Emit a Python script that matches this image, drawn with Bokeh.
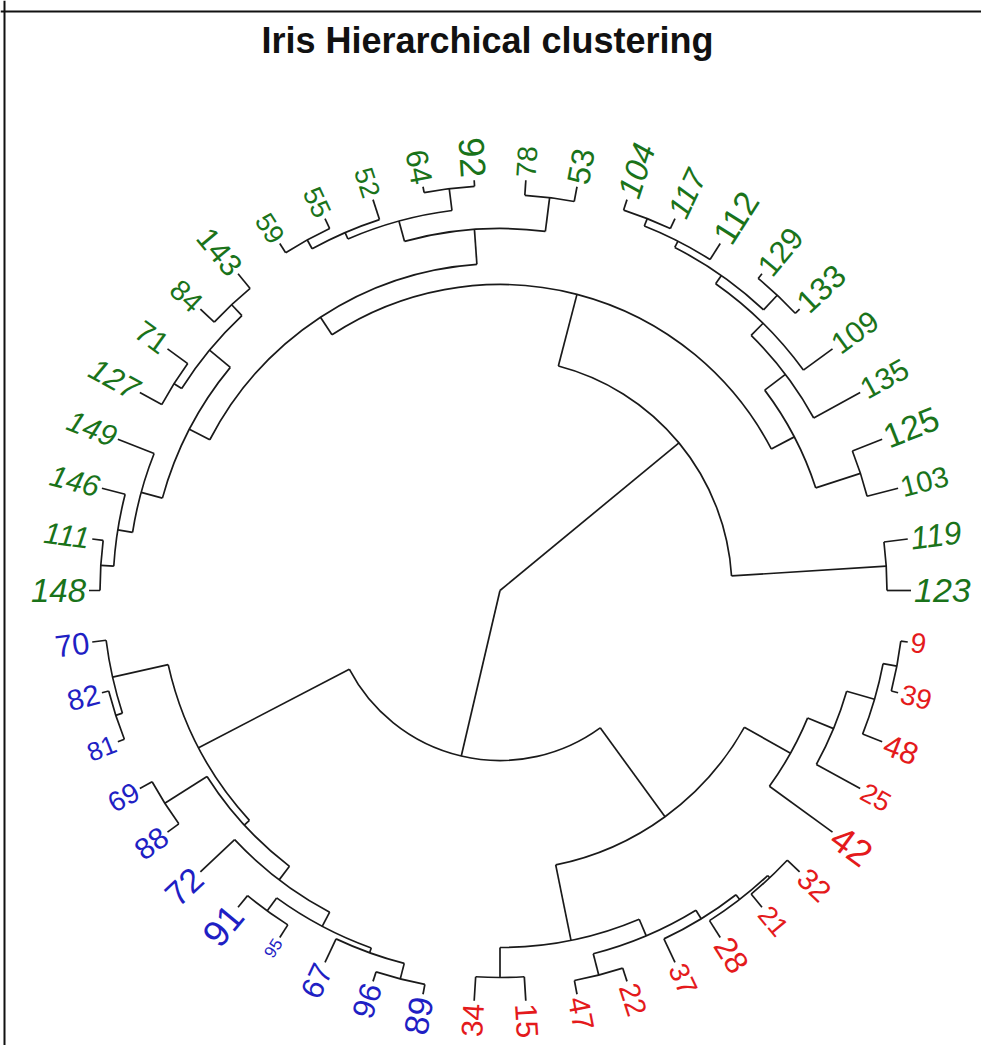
import math
from bokeh.plotting import figure
from bokeh.models import ColumnDataSource, Range1d, Label, Span
from bokeh.embed import file_html
from bokeh.resources import INLINE
from bokeh.core.properties import value

# ---------------- data ----------------
title_text = "Iris Hierarchical clustering"

# leaves in plotting order (counter-clockwise, starting at 0 degrees)
green_leaves = ["123", "119", "103", "125", "135", "109", "133", "129", "112", "117", "104",
                "53", "78", "92", "64", "52", "55", "59", "143", "84", "71", "127",
                "149", "146", "111", "148"]
blue_leaves = ["70", "82", "81", "69", "88", "72", "91", "95", "67", "96", "89"]
red_leaves = ["34", "15", "47", "22", "37", "28", "21", "32", "42", "25", "48", "39", "9"]

# merges (hclust-like): node, left child, right child, merge height
node_name = ["T1", "A", "G", "GR", "n125_103", "GR2", "GR3", "P", "n129_133", "Q", "n104_117",
             "GL", "TG", "n53_78", "TL", "n92_64", "n52", "n55_59",
             "LG", "LG1", "n143_84", "n71_127", "LG2", "n146", "n111_148",
             "root", "B", "BL", "X1", "n82_81", "X2", "n69_88", "Y", "Z", "n91_95", "n67", "n96_89",
             "RD", "R1", "n34_15", "R1b", "n47_22", "R1c", "n28", "n21_32",
             "R2", "n25", "n48", "n39_9"]
node_left = ["119", "T1", "GR", "GR2", "125", "135", "109", "n129_133", "129", "112", "104",
             "TG", "TL", "53", "n92_64", "92", "52", "55",
             "LG1", "n143_84", "143", "71", "149", "146", "111",
             "A", "BL", "X1", "70", "82", "n69_88", "69", "72", "n91_95", "91", "67", "96",
             "R1", "n34_15", "34", "n47_22", "47", "37", "28", "21",
             "42", "25", "48", "39"]
node_right = ["123", "G", "GL", "n125_103", "103", "GR3", "P", "Q", "133", "n104_117", "117",
              "LG", "n53_78", "78", "n52", "64", "n55_59", "59",
              "LG2", "n71_127", "84", "127", "n146", "n111_148", "148",
              "B", "RD", "X2", "n82_81", "81", "Y", "88", "Z", "n67", "95", "n96_89", "89",
              "R2", "R1b", "15", "R1c", "22", "n28", "n21_32", "32",
              "n25", "n48", "n39_9", "9"]
node_height = [0.24, 1.79, 1.05, 0.79, 0.32, 0.53, 0.36, 0.26, 0.06, 0.19, 0.11,
               0.84, 0.49, 0.15, 0.28, 0.06, 0.21, 0.11,
               0.61, 0.34, 0.19, 0.25, 0.39, 0.24, 0.11,
               4.11, 2.41, 0.71, 0.14, 0.07, 0.64, 0.14, 0.47, 0.31, 0.15, 0.26, 0.10,
               1.31, 0.54, 0.24, 0.36, 0.14, 0.26, 0.20, 0.17,
               0.78, 0.50, 0.21, 0.07]

# ---------------- label styling ----------------
label_px = {"123": 34, "119": 32, "103": 29, "125": 34, "135": 30, "109": 30, "133": 32,
            "129": 31, "112": 34, "117": 31, "104": 33, "53": 32, "78": 28, "92": 36,
            "64": 31, "52": 27, "55": 27, "59": 27, "143": 31, "84": 29, "71": 30,
            "127": 31, "149": 30, "146": 30, "111": 30, "148": 33,
            "70": 31, "82": 29, "81": 26, "69": 28, "88": 30, "72": 34, "91": 37,
            "95": 17, "67": 31, "96": 31, "89": 34,
            "34": 30, "15": 31, "47": 30, "22": 29, "37": 28, "28": 32, "21": 27,
            "32": 30, "42": 37, "25": 27, "48": 31, "39": 28, "9": 28}
italic_labels = {"123", "119", "104", "117", "127", "149", "146", "111", "148"}
col_green, col_blue, col_red = "#1a731a", "#1f1fc4", "#e41a1c"
line_col = "#1a1a1a"
font = "Liberation Sans"

# ---------------- tree geometry ----------------
leaves = green_leaves + blue_leaves + red_leaves
N = len(leaves)
theta = {lab: 2 * math.pi * i / N for i, lab in enumerate(leaves)}
height = {lab: 0.0 for lab in leaves}
children = {}
for n, l, r, h in zip(node_name, node_left, node_right, node_height):
    children[n] = (l, r)
    height[n] = h
H = max(node_height)


def ang(n):
    if n not in theta:
        l, r = children[n]
        theta[n] = (ang(l) + ang(r)) / 2.0
    return theta[n]


for n in node_name:
    ang(n)


def rad(n):
    return H - height[n]


arc_src = dict(r=[], a0=[], a1=[])
seg_src = dict(x0=[], y0=[], x1=[], y1=[])
for n in node_name:
    l, r = children[n]
    rn = rad(n)
    if rn > 1e-9:
        a_l, a_r = theta[l], theta[r]
        arc_src["r"].append(rn)
        arc_src["a0"].append(min(a_l, a_r))
        arc_src["a1"].append(max(a_l, a_r))
    for c in (l, r):
        t = theta[c]
        seg_src["x0"].append(rn * math.cos(t))
        seg_src["y0"].append(rn * math.sin(t))
        seg_src["x1"].append(rad(c) * math.cos(t))
        seg_src["y1"].append(rad(c) * math.sin(t))

# ---------------- figure ----------------
W, HGT = 981, 1045
cx, cy = 499.5, 590.0   # centre of the fan in page pixels
p = figure(width=W, height=HGT, output_backend="svg", toolbar_location=None,
           x_axis_location=None, y_axis_location=None,
           x_range=Range1d(-cx / 100.0, (W - cx) / 100.0),
           y_range=Range1d((cy - HGT) / 100.0, cy / 100.0),
           min_border=0, outline_line_color=None)
p.grid.visible = False
p.background_fill_color = "white"

p.arc(x=0, y=0, radius="r", start_angle="a0", end_angle="a1", direction="anticlock",
      source=ColumnDataSource(arc_src), line_color=line_col, line_width=1.7)
p.segment(x0="x0", y0="y0", x1="x1", y1="y1", source=ColumnDataSource(seg_src),
          line_color=line_col, line_width=1.7)

pad = 0.03
groups = {}
for lab in leaves:
    t = theta[lab]
    right = math.cos(t) >= 0
    style = "italic" if lab in italic_labels else "normal"
    key = ("left" if right else "right", style)
    g = groups.setdefault(key, dict(x=[], y=[], text=[], angle=[], size=[], color=[]))
    g["x"].append((H + pad) * math.cos(t))
    g["y"].append((H + pad) * math.sin(t))
    g["text"].append(lab)
    g["angle"].append(t if right else t - math.pi)
    g["size"].append(f"{label_px[lab]}px")
    if lab in green_leaves:
        g["color"].append(col_green)
    elif lab in blue_leaves:
        g["color"].append(col_blue)
    else:
        g["color"].append(col_red)

for (align, style), g in groups.items():
    p.text(x="x", y="y", text="text", angle="angle", source=ColumnDataSource(g),
           text_align=align, text_baseline="middle", text_font=value(font),
           text_font_style=style, text_font_size="size", text_color="color")

p.add_layout(Label(x=487, y=HGT - 40, x_units="screen", y_units="screen", text=title_text,
                   text_align="center", text_baseline="middle", text_font=font,
                   text_font_style="bold", text_font_size="36px", text_color="#111111"))
p.add_layout(Span(location=(cy - 11) / 100.0, dimension="width", line_color="#111111", line_width=2))
p.add_layout(Span(location=(4 - cx) / 100.0, dimension="height", line_color="#111111", line_width=2))

open("out.html", "w").write(file_html(p, INLINE))
